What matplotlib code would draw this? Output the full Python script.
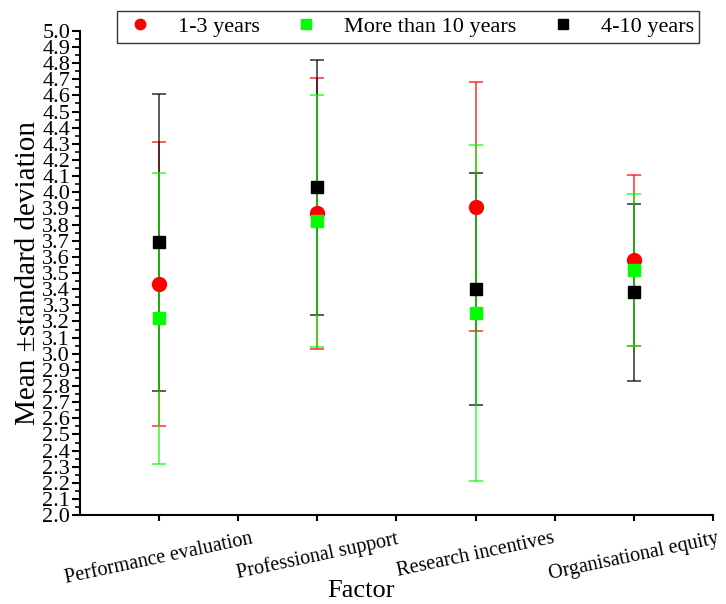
import matplotlib
matplotlib.use("Agg")
import matplotlib.pyplot as plt
from matplotlib.ticker import MultipleLocator, FixedLocator

plt.rcParams['font.family'] = ['Liberation Serif', 'DejaVu Serif']

# factors on the x axis
factors = ['Performance evaluation', 'Professional support',
           'Research incentives', 'Organisational equity']

# mean and standard deviation per experience group
mean_1_3 = [3.43, 3.87, 3.91, 3.58]
sd_1_3 = [0.88, 0.84, 0.77, 0.53]

mean_10plus = [3.22, 3.82, 3.25, 3.52]
sd_10plus = [0.90, 0.78, 1.04, 0.47]

mean_4_10 = [3.69, 4.03, 3.40, 3.38]
sd_4_10 = [0.92, 0.79, 0.72, 0.55]

# legend order, with the stacking order of the error bars
groups = [('1-3 years', mean_1_3, sd_1_3, 'o', '#ff0000', 2),
          ('More than 10 years', mean_10plus, sd_10plus, 's', '#00ff00', 4),
          ('4-10 years', mean_4_10, sd_4_10, 's', '#000000', 3)]

fig = plt.figure(figsize=(7.26, 6.04), dpi=100)
ax = fig.add_axes([0.110, 0.147, 0.872, 0.802])

xpos = list(range(1, len(factors) + 1))
handles = []
for i, (name, m, s, mk, col, z) in enumerate(groups):
    ax.errorbar(xpos, m, yerr=s, fmt='none', ecolor=col, elinewidth=1.2,
                capsize=5, capthick=1.2, alpha=0.75, zorder=z)
    h, = ax.plot(xpos, m, linestyle='none', marker=mk, color=col,
                 markersize=10 if mk == 'o' else 9, zorder=6 + i, label=name)
    handles.append(h)

ax.set_xlim(0.5, 4.5)
ax.set_ylim(2.0, 5.0)
ax.yaxis.set_major_locator(MultipleLocator(0.1))
ax.yaxis.set_minor_locator(MultipleLocator(0.05))
ax.yaxis.set_major_formatter(matplotlib.ticker.FormatStrFormatter('%.1f'))
ax.xaxis.set_major_locator(FixedLocator(xpos))
ax.xaxis.set_minor_locator(FixedLocator([1.5, 2.5, 3.5, 4.5]))
ax.set_xticklabels(factors, rotation=12, ha='center', fontsize=14.5)

for side in ['top', 'right']:
    ax.spines[side].set_visible(False)
for side in ['left', 'bottom']:
    ax.spines[side].set_linewidth(1.5)

ax.tick_params(axis='y', which='major', direction='out', length=6, width=1.5,
               labelsize=16, pad=1)
ax.tick_params(axis='y', which='minor', direction='out', length=3.5, width=1.2)
ax.tick_params(axis='x', which='both', direction='out', length=4, width=1.5, pad=6)

ax.set_ylabel('Mean \u00b1standard deviation', fontsize=21, labelpad=1)
fig.text(0.497, 0.004, 'Factor', fontsize=19, ha='center', va='bottom')

leg = fig.legend(handles=handles, loc='upper center', bbox_to_anchor=(0.562, 1.0),
                 ncol=3, fontsize=16, frameon=True, fancybox=False,
                 markerscale=0.75, handletextpad=0.9, columnspacing=1.3,
                 borderpad=0.25, handlelength=1.6)
leg.get_frame().set_edgecolor('black')
leg.get_frame().set_linewidth(1.0)

fig.savefig('out.png', dpi=100)
